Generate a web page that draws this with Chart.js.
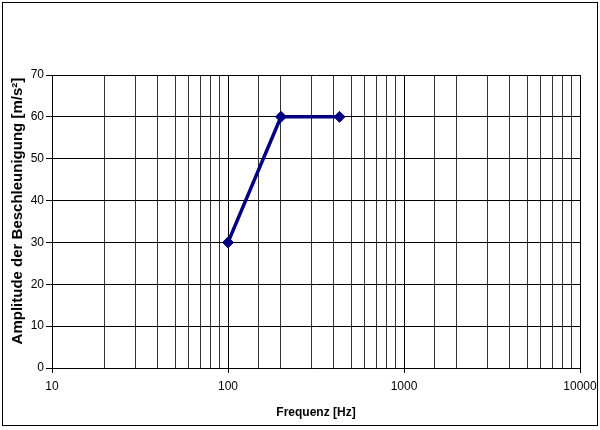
<!DOCTYPE html>
<html>
<head>
<meta charset="utf-8">
<script src="https://cdn.jsdelivr.net/npm/chart.js@4"></script>
<style>
  html, body { margin: 0; padding: 0; background: #fff; }
  #wrap { width: 600px; height: 430px; position: relative; }
</style>
</head>
<body>
<div id="wrap"><canvas id="chart" width="600" height="430"></canvas></div>
<script>
const frequencies = [100, 200, 430];
const amplitudes = [30, 60, 60];
const xMajorTicks = [10, 100, 1000, 10000];
const yTicks = [0, 10, 20, 30, 40, 50, 60, 70];

const fontFamily = '"Liberation Sans", Arial, sans-serif';

function isMajor(v) {
    return xMajorTicks.indexOf(v) !== -1;
}

// outer frame round the whole chart
const frame = {
    id: 'frame',
    afterDraw(chart) {
        const ctx = chart.ctx;
        ctx.save();
        ctx.strokeStyle = '#000';
        ctx.lineWidth = 1;
        ctx.strokeRect(2.5, 2.5, 595, 423);
        ctx.restore();
    }
};

new Chart(document.getElementById('chart'), {
    type: 'line',
    data: {
        datasets: [{
            data: frequencies.map((f, i) => ({ x: f, y: amplitudes[i] })),
            borderColor: '#000080',
            backgroundColor: '#000080',
            borderWidth: 3.5,
            pointStyle: 'rectRot',
            pointRadius: 5.5,
            pointBorderWidth: 1,
            tension: 0
        }]
    },
    options: {
        responsive: false,
        animation: false,
        layout: { padding: { left: 9, right: 20, top: 75, bottom: 4 } },
        plugins: {
            legend: { display: false },
            tooltip: { enabled: false }
        },
        scales: {
            x: {
                type: 'logarithmic',
                min: 10,
                max: 10000,
                border: { color: '#000', width: 1 },
                grid: {
                    color: c => isMajor(c.tick.value) ? '#000' : '#333',
                    tickColor: c => isMajor(c.tick.value) ? '#000' : 'rgba(0,0,0,0)',
                    tickLength: 5,
                    lineWidth: 1
                },
                ticks: {
                    autoSkip: false,
                    maxRotation: 0,
                    color: '#000',
                    padding: 6,
                    font: { family: fontFamily, size: 12 },
                    callback: v => isMajor(v) ? String(v) : ''
                },
                title: {
                    display: true,
                    text: 'Frequenz [Hz]',
                    color: '#000',
                    font: { family: fontFamily, size: 12, weight: 'bold' },
                    padding: { top: 4, bottom: 6 }
                },
                afterFit(scale) {
                    scale.height = 58;
                    scale.paddingLeft = 0;
                    scale.paddingRight = 0;
                }
            },
            y: {
                min: 0,
                max: 70,
                afterBuildTicks(scale) {
                    scale.ticks = yTicks.map(v => ({ value: v }));
                },
                border: { color: '#000', width: 1 },
                grid: {
                    color: '#000',
                    tickColor: '#000',
                    tickLength: 6,
                    lineWidth: 1
                },
                ticks: {
                    color: '#000',
                    padding: 2,
                    font: { family: fontFamily, size: 12 }
                },
                title: {
                    display: true,
                    text: '\u00A0\u00A0\u00A0\u00A0\u00A0Amplitude der Beschleunigung [m/s²]',
                    color: '#000',
                    font: { family: fontFamily, size: 15, weight: 'bold' },
                    padding: { top: 0, bottom: 2 }
                },
                afterFit(scale) {
                    scale.width = 43;
                    scale.paddingTop = 0;
                    scale.paddingBottom = 0;
                }
            }
        }
    },
    plugins: [frame]
});
</script>
</body>
</html>
